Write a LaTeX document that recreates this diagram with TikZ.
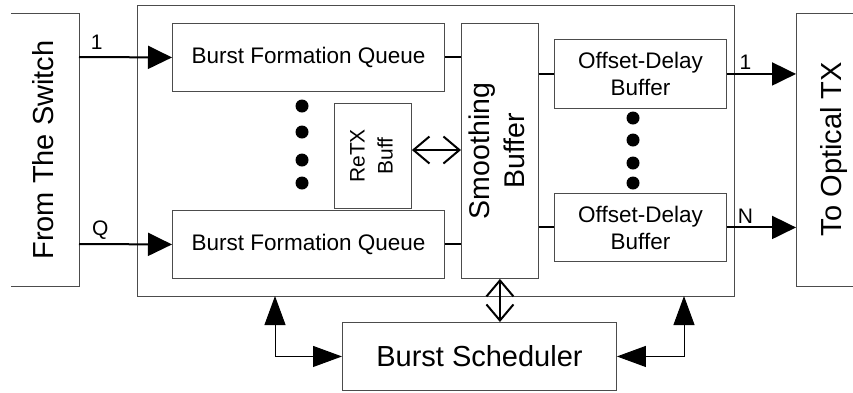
\documentclass[tikz,border=0pt]{standalone}
\usepackage{fontspec}
\setmainfont{Liberation Sans}
\usepackage{graphicx}
\usetikzlibrary{arrows.meta, positioning}

\newcommand{\vtxt}[1]{\rotatebox{90}{\begin{tabular}{@{}c@{}}#1\end{tabular}}}

\tikzset{
  blk/.style={draw=black!70, line width=0.9pt, inner sep=0pt, anchor=north west},
  bigfont/.style={font=\fontsize{29}{35}\selectfont},
  midfont/.style={font=\fontsize{22.5}{27}\selectfont},
  smallfont/.style={font=\fontsize{21}{28}\selectfont},
  link/.style={line width=2pt},
  sig/.style={line width=2pt, -{Triangle[length=24pt,width=23pt]}},
  dbl/.style={line width=2pt, {Straight Barb[length=16pt,width=27pt]}-{Straight Barb[length=16pt,width=27pt]}},
  fbk/.style={line width=1pt, {Triangle[length=29pt,width=21pt]}-{Triangle[length=29pt,width=21pt]}},
}

\begin{document}
\begin{tikzpicture}[x=1pt, y=-1pt]
  \clip (0,0) rectangle (853,392);

  % outer unit and side boxes
  \node[blk, minimum width=597pt, minimum height=291pt] (unit) at (137,5) {};
  \draw[draw=black!70, line width=0.9pt] (11,13) -| (79,286) -- (11,286);
  \node[bigfont] (sw) at (43.5,150) {\rotatebox{90}{From The Switch}};
  \node[blk, minimum width=120pt, minimum height=273pt] (txbox) at (796,13) {};
  \node[bigfont] (tx) at (834,149) {\rotatebox{90}{To Optical TX}};

  % inner blocks
  \node[blk, midfont, minimum width=272pt, minimum height=68pt] (bfq1) at (172,23) {Burst Formation Queue};
  \node[blk, midfont, minimum width=272pt, minimum height=68pt] (bfq2) at (172,210) {Burst Formation Queue};
  \node[blk, smallfont, minimum width=77pt, minimum height=105pt] (retx) at (334,103) {\vtxt{ReTX\\Buff}};
  \node[blk, font=\fontsize{28.5}{35}\selectfont, minimum width=77pt, minimum height=255pt] (smooth) at (461,23) {\vtxt{Smoothing\\Buffer}};
  \node[blk, midfont, align=center, minimum width=172pt, minimum height=69pt] (odb1) at (554,39) {Offset-Delay\\Buffer};
  \node[blk, midfont, align=center, minimum width=172pt, minimum height=68pt] (odb2) at (554,193) {Offset-Delay\\Buffer};
  \node[blk, bigfont, minimum width=274pt, minimum height=68pt] (sched) at (342,322) {Burst Scheduler};

  % dots
  \foreach \y in {106,132,160,183}
    \fill (302,\y) circle (6.5pt);
  \foreach \y in {118,140,163,183}
    \fill (633,\y) circle (6.5pt);

  % inputs
  \coordinate (in1) at (79,57);
  \coordinate (inq) at (79,244);
  \draw[sig] (in1) -- node[smallfont, above=3.5pt, pos=0.19] (lab1) {1} (bfq1.west);
  \draw[sig] (inq) -- node[smallfont, above=0.5pt, pos=0.23] (labq) {Q} (bfq2.west);

  % into smoothing buffer
  \draw[link] (bfq1.east) -- (bfq1.east -| smooth.west);
  \draw[link] (bfq2.east) -- (bfq2.east -| smooth.west);
  \draw[dbl] (retx.east |- 0,150) -- (smooth.west |- 0,150);
  \draw[link] (smooth.east |- odb1.west) -- (odb1.west);
  \draw[link] (smooth.east |- odb2.west) -- (odb2.west);

  % outputs
  \draw[sig] (odb1.east) -- node[smallfont, above=0pt, pos=0.27] (labo1) {1} (odb1.east -| txbox.west);
  \draw[sig] (odb2.east) -- node[smallfont, above=0pt, pos=0.27] (labon) {N} (odb2.east -| txbox.west);

  % scheduler links
  \draw[dbl] (smooth.south) -- (smooth.south |- sched.north);
  \coordinate (fbl) at (275,296);
  \coordinate (fbr) at (684,296);
  \draw[fbk] (fbl) |- (sched.west);
  \draw[fbk] (fbr) |- (sched.east);
\end{tikzpicture}
\end{document}
